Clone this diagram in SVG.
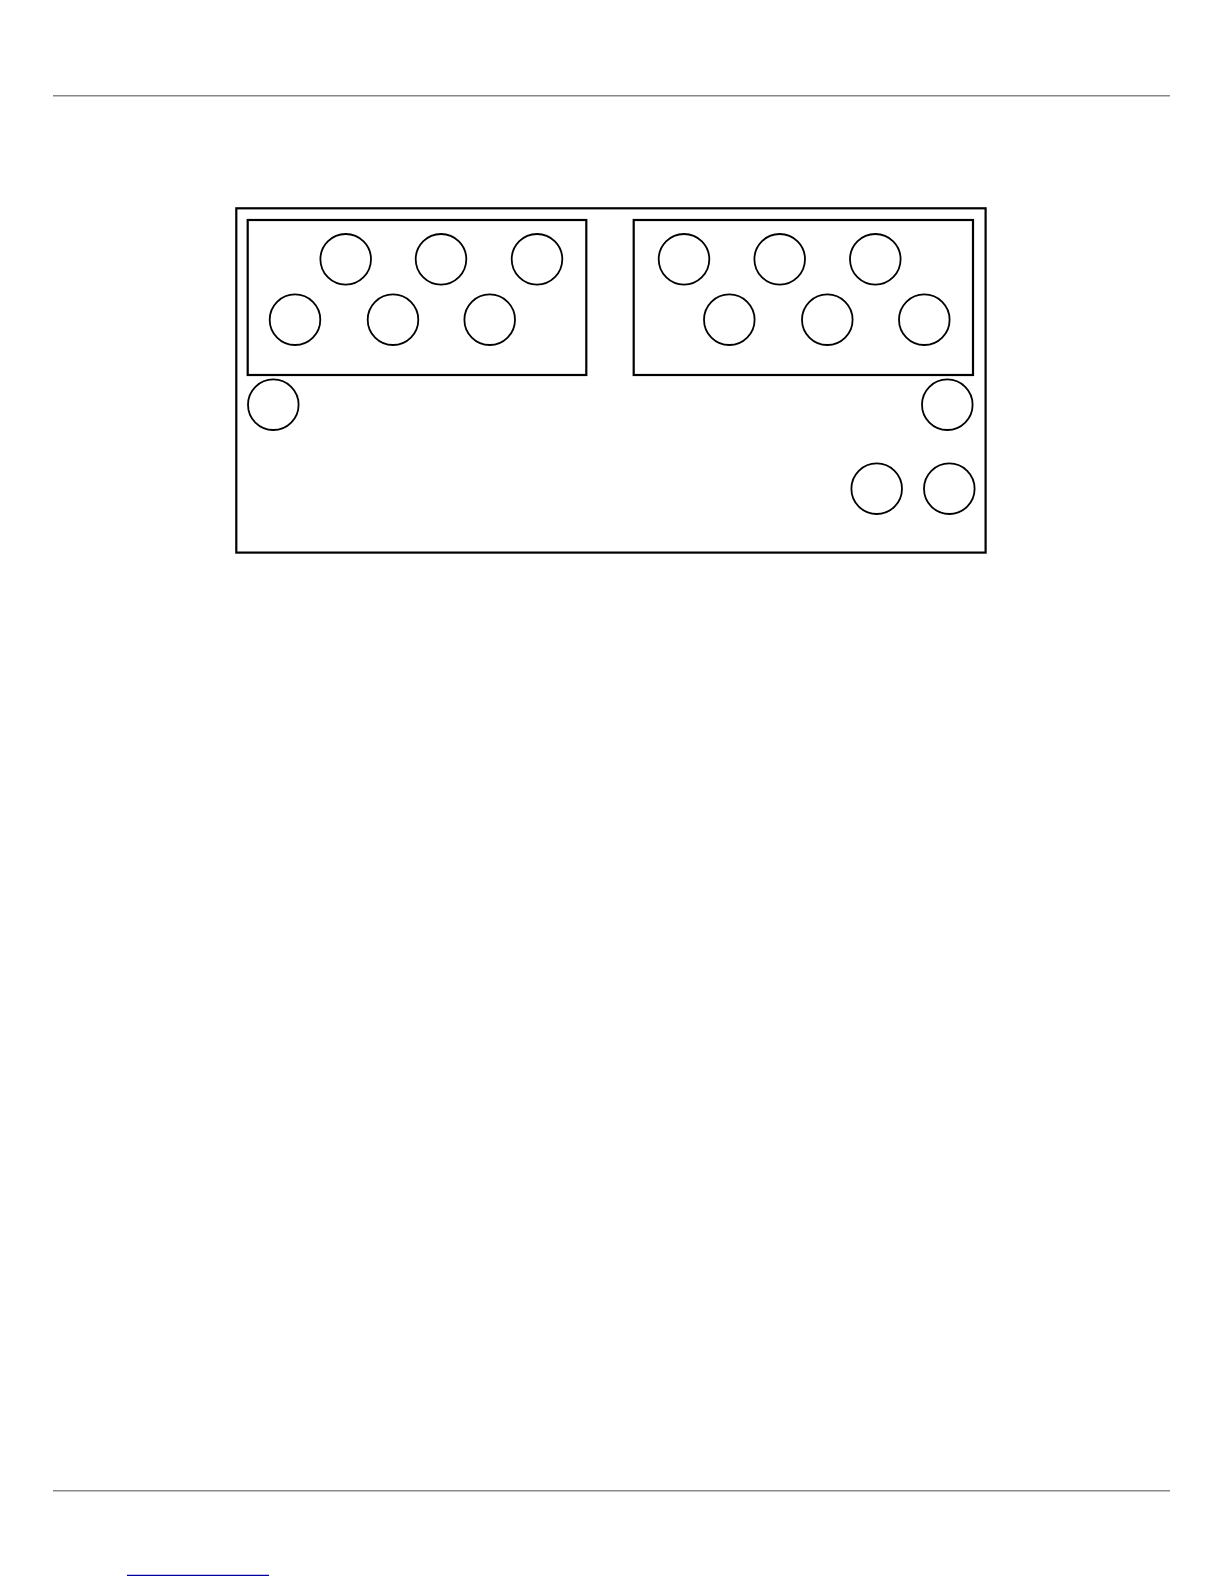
<svg xmlns="http://www.w3.org/2000/svg" width="1224" height="1584" viewBox="0 0 1224 1584">
<style>
.box{fill:none;stroke:#000;stroke-width:2.2}
.c{fill:#fff;stroke:#000;stroke-width:1.8}
.rule{stroke:#888;stroke-width:1.6}
</style>
<rect width="1224" height="1584" fill="#fff"/>
<line class="rule" x1="53" y1="95.7" x2="1170" y2="95.7"/>
<line class="rule" x1="53" y1="1490.7" x2="1170" y2="1490.7"/>
<line x1="127" y1="1575.3" x2="269" y2="1575.3" stroke="#0000a0" stroke-width="1.3"/>
<g id="outer"><rect class="box" x="236.3" y="208.3" width="749.3" height="344.3"/></g>
<g id="group-left">
<rect class="box" x="247.7" y="220" width="338.6" height="155"/>
<circle class="c" cx="345.7" cy="259.3" r="25.3"/>
<circle class="c" cx="441" cy="259.3" r="25.3"/>
<circle class="c" cx="537" cy="259.3" r="25.3"/>
<circle class="c" cx="295" cy="319.7" r="25.3"/>
<circle class="c" cx="393" cy="319.7" r="25.3"/>
<circle class="c" cx="489.7" cy="319.7" r="25.3"/>
</g>
<g id="group-right">
<rect class="box" x="633.7" y="220" width="339.3" height="155"/>
<circle class="c" cx="684" cy="259.3" r="25.3"/>
<circle class="c" cx="779.7" cy="259.3" r="25.3"/>
<circle class="c" cx="875.3" cy="259.3" r="25.3"/>
<circle class="c" cx="729.3" cy="319.7" r="25.3"/>
<circle class="c" cx="827.3" cy="319.7" r="25.3"/>
<circle class="c" cx="924.3" cy="319.7" r="25.3"/>
</g>
<g id="node-left"><circle class="c" cx="273.3" cy="404.7" r="25.3"/></g>
<g id="node-right"><circle class="c" cx="947.3" cy="404.7" r="25.3"/></g>
<g id="node-bottom1"><circle class="c" cx="876.7" cy="488.7" r="25.3"/></g>
<g id="node-bottom2"><circle class="c" cx="949.3" cy="488.7" r="25.3"/></g>
<g id="connectors"></g>
</svg>
